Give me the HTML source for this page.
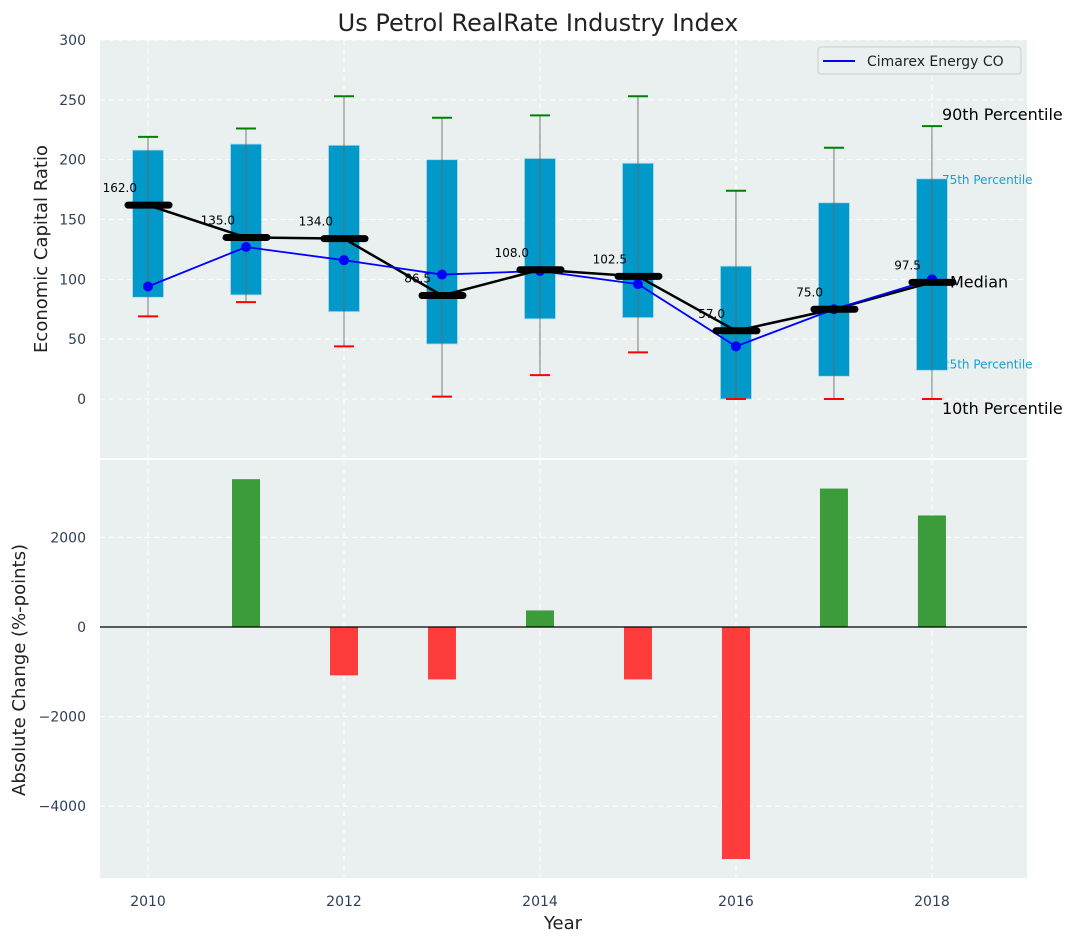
<!DOCTYPE html>
<html><head><meta charset="utf-8"><style>
body{margin:0;background:#fff;font-family:"Liberation Sans","DejaVu Sans",sans-serif}
svg text{font-family:"DejaVu Sans","Liberation Sans",sans-serif}
</style></head><body>
<svg id="c" width="1077" height="942" xmlns="http://www.w3.org/2000/svg"></svg>
<script>
const years=[2010,2011,2012,2013,2014,2015,2016,2017,2018];
const q25=[85,87,73,46,67,68,0,19,24];
const q75=[208,213,212,200,201,197,111,164,184];
const p10=[69,81,44,2,20,39,0,0,0];
const p90=[219,226,253,235,237,253,174,210,228];
const medians=[162,135,134,86.5,108,102.5,57,75,97.5];
const company=[94,127,116,104,107,96,44,75,100];
const changes=[0,3300,-1080,-1170,370,-1170,-5180,3090,2490];
const topTicks=[0,50,100,150,200,250,300];
const botTicks=[-4000,-2000,0,2000];
const xTicks=[2010,2012,2014,2016,2018];

const NS='http://www.w3.org/2000/svg';
const svg=document.getElementById('c');
function mk(tag,attrs,parent,txt){const e=document.createElementNS(NS,tag);for(const k in attrs)e.setAttribute(k,attrs[k]);if(txt!==undefined)e.textContent=txt;(parent||svg).appendChild(e);return e;}
const L=100,R=1027,T1=40,B1=458,T2=460,B2=878;
const x=v=>L+(v-2009.51)/(2018.97-2009.51)*(R-L);
const y1=v=>399-v*(359/300);
const y2=v=>627-v*(89.6/2000);

let p=mk('rect',{x:L,y:T1,width:R-L,height:B1-T1,fill:'#eaeff0'});

p=mk('rect',{x:L,y:T2,width:R-L,height:B2-T2,fill:'#eaeff0'});


xTicks.forEach(t=>{[[T1,B1],[T2,B2]].forEach(([a,b])=>{const g=mk('line',{x1:x(t),x2:x(t),y1:a,y2:b,stroke:'#fff','stroke-dasharray':'5,4','stroke-width':1});});
 const tl=mk('text',{x:x(t),y:906,'text-anchor':'middle','font-size':14,fill:'#2e3f55'},svg,t);});
topTicks.forEach(t=>{const g=mk('line',{x1:L,x2:R,y1:y1(t),y2:y1(t),stroke:'#fff','stroke-dasharray':'5,4'});
 const tl=mk('text',{x:86,y:y1(t)+5,'text-anchor':'end','font-size':14,fill:'#2e3f55'},svg,t);});
botTicks.forEach(t=>{const g=mk('line',{x1:L,x2:R,y1:y2(t),y2:y2(t),stroke:'#fff','stroke-dasharray':'5,4'});
 const tl=mk('text',{x:86,y:y2(t)+5,'text-anchor':'end','font-size':14,fill:'#2e3f55'},svg,t<0?'\u2212'+(-t):t);});

const li=years.length-1,lx=x(years[li]);
[['75th Percentile',q75[li],'#1a9fcf',12,12],['25th Percentile',q25[li],'#1a9fcf',12,-32]].forEach(([s,v,c,f,dy])=>{const t=mk('text',{x:lx+10,y:y1(v)+(dy>0?5:-2),'font-size':f,fill:c},svg,s);});

years.forEach((yr,i)=>{const cx=x(yr);
 const b=mk('rect',{x:cx-15.5,y:y1(q75[i]),width:31,height:y1(q25[i])-y1(q75[i]),fill:'#0099c9',stroke:'#a9dbe9','stroke-width':0.8});
 
 const w=mk('line',{x1:cx,x2:cx,y1:y1(p90[i]),y2:y1(p10[i]),stroke:'#666','stroke-opacity':0.7,'stroke-width':1.2});
 
 const c1=mk('line',{x1:cx-10,x2:cx+10,y1:y1(p90[i]),y2:y1(p90[i]),stroke:'#008000','stroke-width':2});
 
 const c2=mk('line',{x1:cx-10,x2:cx+10,y1:y1(p10[i]),y2:y1(p10[i]),stroke:'#ff0000','stroke-width':2});
 
});
let pts=years.map((yr,i)=>x(yr)+','+y1(medians[i])).join(' ');
let ml=mk('polyline',{points:pts,fill:'none',stroke:'#000','stroke-width':2.5});

pts=years.map((yr,i)=>x(yr)+','+y1(company[i])).join(' ');
let cl=mk('polyline',{points:pts,fill:'none',stroke:'#0000ff','stroke-width':1.8});

years.forEach((yr,i)=>{const d=mk('circle',{cx:x(yr),cy:y1(company[i]),r:5,fill:'#0000ff'});});
years.forEach((yr,i)=>{const cx=x(yr),cy=y1(medians[i]);
 const m=mk('line',{x1:cx-20,x2:cx+21,y1:cy,y2:cy,stroke:'#000','stroke-width':7,'stroke-linecap':'round'});
 
 const t=mk('text',{x:cx-11,y:cy-13,'text-anchor':'end','font-size':12,fill:'#000'},svg,medians[i].toFixed(1));
 });
[['90th Percentile',p90[li],5,16],['Median',medians[li],23,16],['10th Percentile',p10[li],5,16]].forEach(([s,v,dx,f],k)=>{
 const yy=k==0?y1(v)-6:(k==2?y1(v)+15:y1(v)+5);
 const t=mk('text',{x:lx+10+(k==1?8:0),y:yy,'font-size':f,fill:'#000'},svg,s);});

years.forEach((yr,i)=>{if(!changes[i])return;const v=changes[i];
 const b=mk('rect',{x:x(yr)-14,y:Math.min(y2(0),y2(v)),width:28,height:Math.abs(y2(v)-y2(0)),fill:v>0?'#3c9c3c':'#ff3c3c'});
 });
let zl=mk('line',{x1:L,x2:R,y1:y2(0),y2:y2(0),stroke:'#000','stroke-width':1.2});


const lg=mk('g',{});
mk('rect',{x:818,y:47,width:203,height:27,rx:3,fill:'#eaeff0',stroke:'#ccc'},lg);
mk('line',{x1:823,x2:855,y1:61,y2:61,stroke:'#0000ff','stroke-width':2},lg);
mk('text',{x:867,y:66,'font-size':14,fill:'#222'},lg,'Cimarex Energy CO');

let t=mk('text',{x:538,y:31,'text-anchor':'middle','font-size':24,fill:'#222'},svg,'Us Petrol RealRate Industry Index');

t=mk('text',{x:563,y:929,'text-anchor':'middle','font-size':18,fill:'#222'},svg,'Year');

t=mk('text',{x:0,y:0,'text-anchor':'middle','font-size':18,fill:'#222',transform:'translate(47,249) rotate(-90)'},svg,'Economic Capital Ratio');

t=mk('text',{x:0,y:0,'text-anchor':'middle','font-size':18,fill:'#222',transform:'translate(25,670) rotate(-90)'},svg,'Absolute Change (%-points)');

</script>
</body></html>
